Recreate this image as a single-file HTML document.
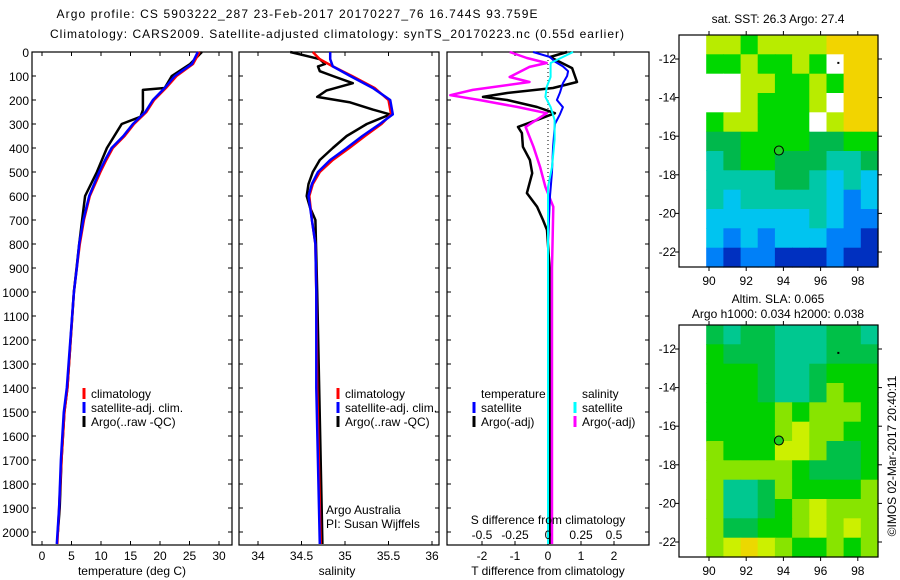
<!DOCTYPE html>
<html><head><meta charset="utf-8"><style>
html,body{margin:0;padding:0;background:#fff;}
svg{display:block;font-family:"Liberation Sans",sans-serif;font-size:12px;}
</style></head><body>
<svg id="c" width="900" height="580" viewBox="0 0 900 580" xmlns="http://www.w3.org/2000/svg">
<text x="297" y="18" text-anchor="middle" textLength="481">Argo profile: CS 5903222_287 23-Feb-2017 20170227_76 16.744S 93.759E</text>
<text x="337" y="38" text-anchor="middle" textLength="574">Climatology: CARS2009. Satellite-adjusted climatology: synTS_20170223.nc (0.55d earlier)</text>
<g id="g"></g>
</svg>
<script>
// ---------- data ----------
const depthTicks=[0,100,200,300,400,500,600,700,800,900,1000,1100,1200,1300,1400,1500,1600,1700,1800,1900,2000];
const tTicks=[0,5,10,15,20,25,30];
const sTicks=[34,34.5,35,35.5,36];
const dTTicks=[-2,-1,0,1,2];
const dSTicks=[-0.5,-0.25,0,0.25,0.5];
const dSTickLabels=["-0.5","-0.25","0","0.25","0.5"];

const tDepth=[0,50,100,150,200,250,300,350,400,450,500,600,700,800,900,1000,1400,1500,1700,1900,2050];
const tSat=[26.4,25.4,22.5,20.8,18.8,17.5,15.4,13.8,11.8,10.7,9.7,8.0,7.0,6.3,5.9,5.4,4.2,3.7,3.2,2.9,2.5];
const tClim=[26.7,25.6,22.8,21.0,19.0,17.7,15.6,14.0,12.0,10.9,9.9,8.1,7.1,6.4,5.9,5.4,4.3,3.8,3.3,2.9,2.6];
const tArgoDepth=[0,50,100,150,158,187,242,270,300,400,500,600,700,800,1000,1400,1500,1700,1900,2000];
const tArgo=[27.1,25.1,22.0,20.8,17.1,17.1,17.1,16.7,13.5,11.0,9.3,7.3,6.8,6.3,5.4,4.3,3.8,3.3,3.0,2.7];

const sDepth=[0,30,60,100,150,200,260,300,350,400,450,500,550,600,700,800,1000,1400,2050];
const sSat=[34.83,34.83,34.86,35.06,35.32,35.52,35.55,35.40,35.20,35.02,34.83,34.69,34.62,34.58,34.62,34.66,34.67,34.67,34.71];
const sClim=[34.63,34.71,34.86,35.08,35.34,35.50,35.53,35.42,35.23,35.05,34.86,34.71,34.63,34.59,34.62,34.66,34.67,34.68,34.72];
const sArgoDepth=[0,20,30,50,60,80,100,130,160,187,210,240,260,300,350,400,450,500,550,600,650,700,1000,2050];
const sArgo=[34.37,34.60,34.71,34.77,34.69,34.71,34.86,35.09,34.79,34.68,35.06,35.32,35.52,35.25,35.02,34.86,34.71,34.63,34.58,34.56,34.60,34.66,34.68,34.74];

const dTSatDepth=[0,21,40,60,80,100,130,170,200,230,260,300,400,500,600,800,2050];
const dTSat=[-0.45,0.06,0.21,0.45,0.61,0.58,0.45,0.36,0.27,0.45,0.36,0.21,0.15,0.12,0.06,0.0,0.0];
const dTArgoDepth=[0,21,67,125,150,171,187,200,229,255,283,312,338,395,450,505,588,645,700,742,900,2050];
const dTArgo=[0.58,0.06,0.73,0.88,0.15,-1.24,-1.97,-1.24,-0.33,0.21,-0.33,-0.91,-0.79,-0.76,-0.55,-0.48,-0.64,-0.33,-0.15,-0.03,0.05,0.06];
const dSArgoDepth=[0,25,46,62,104,125,158,180,200,229,255,312,395,479,562,645,900,2050];
const dSArgo=[-0.29,-0.16,-0.01,-0.14,-0.29,-0.14,-0.57,-0.74,-0.52,-0.23,-0.01,-0.17,-0.11,-0.06,-0.02,0.04,0.03,0.03];
const dSSatDepth=[0,46,104,146,187,229,283,366,479,562,2050];
const dSSat=[0.19,0.02,0.02,-0.01,-0.02,0.02,0.05,0.05,0.03,0.0,0.0];

const lonTicks=[90,92,94,96,98];
const latTicks=[-12,-14,-16,-18,-20,-22];
const sstRows=["llgllllyyy","gglgglgwyy","wwllgglgyy","wwlggglwyy","gllgggwlyy","GGggggGGgg","tGggGGGttG","ttttGGtctc","tctttttcbc","cccccctcbb","cbcbcccbbB","bBbbBBBbBB"];
const slaRows=["GtGGtttGGt","gGGGtttGGG","gggGttGggg","gggGttGlgg","gggglglllg","gggglyllgg","lgggyylGGg","lllllgGGGg","lttGlggggl","lttGglylll","lGGgglylyl","lyoylgglgl"];
const argoLon=93.759, argoLat=-16.744;

// ---------- drawing ----------
const NS="http://www.w3.org/2000/svg";
const G=document.getElementById('g');
function el(tag,attrs,parent){const e=document.createElementNS(NS,tag);for(const k in attrs)e.setAttribute(k,attrs[k]);(parent||G).appendChild(e);return e;}
function txt(x,y,s,anchor,parent){const t=el('text',{x:x,y:y,'text-anchor':anchor||'start'},parent);t.textContent=s;return t;}
const yD=d=>52+d*0.24;
const PB=545;
const xT=t=>42+t*5.9;
const xS=s=>258+(s-34)*87;
const xDT=t=>548+t*33;
const xDS=s=>548+s*132;

function panel(x0,x1,name){
  const g=el('g',{});
  
  
  el('rect',{x:x0,y:52,width:x1-x0,height:PB-52,fill:'none',stroke:'#000','stroke-width':1.2},g);
  depthTicks.forEach(d=>{const y=yD(d);el('line',{x1:x0,x2:x0+4,y1:y,y2:y,stroke:'#000'},g);el('line',{x1:x1-4,x2:x1,y1:y,y2:y,stroke:'#000'},g);});
  return g;
}
function xticks(g,vals,fx,labels,ly){
  vals.forEach((v,i)=>{const x=fx(v);el('line',{x1:x,x2:x,y1:52,y2:56,stroke:'#000'},g);el('line',{x1:x,x2:x,y1:PB-4,y2:PB,stroke:'#000'},g);
    if(labels){const t=txt(x,ly,labels[i],'middle',g);}});
}
function line(g,xs,ds,fx,color,w,name){
  const pts=xs.map((v,i)=>fx(v).toFixed(1)+','+yD(ds[i]).toFixed(1)).join(' ');
  const p=el('polyline',{points:pts,fill:'none',stroke:color,'stroke-width':w,'stroke-linejoin':'round'},g);
  
  
}
function legend(g,x,y,color,label){
  el('line',{x1:x,x2:x,y1:y-10,y2:y+1,stroke:color,'stroke-width':3},g);
  const t=txt(x+7,y,label,'start',g);
  
  
}

// depth labels
depthTicks.forEach(d=>{const t=txt(29,yD(d)+5,String(d),'end');});

// Panel 1 temperature
const p1=panel(32,232,'temperature-panel');
xticks(p1,tTicks,xT,tTicks.map(String),560);
line(p1,tArgo,tArgoDepth,xT,'#000',2.5,'temp-argo-line');
line(p1,tClim,tDepth,xT,'#f00',2.5,'temp-climatology-line');
line(p1,tSat,tDepth,xT,'#00f',2.5,'temp-satellite-line');
legend(p1,84,398,'#f00','climatology');
legend(p1,84,412,'#00f','satellite-adj. clim.');
legend(p1,84,426,'#000','Argo(..raw -QC)');
{const t=txt(132,575,'temperature (deg C)','middle');}

// Panel 2 salinity
const p2=panel(239,439,'salinity-panel');
xticks(p2,sTicks,xS,sTicks.map(String),560);
line(p2,sArgo,sArgoDepth,xS,'#000',2.5,'sal-argo-line');
line(p2,sClim,sDepth,xS,'#f00',2.5,'sal-climatology-line');
line(p2,sSat,sDepth,xS,'#00f',2.5,'sal-satellite-line');
legend(p2,338,398,'#f00','climatology');
legend(p2,338,412,'#00f','satellite-adj. clim.');
legend(p2,338,426,'#000','Argo(..raw -QC)');
txt(326,514,'Argo Australia','start',p2);
txt(326,528,'PI: Susan Wijffels','start',p2);
{const t=txt(337,575,'salinity','middle');}

// Panel 3 differences
const p3=panel(447,649,'difference-panel');
xticks(p3,dTTicks,xDT,dTTicks.map(String),560);
el('line',{x1:548,x2:548,y1:52,y2:PB,stroke:'#000','stroke-dasharray':'1,3'},p3);
line(p3,dTArgo,dTArgoDepth,xDT,'#000',2.5,'diff-temp-argo-line');
line(p3,dSArgo,dSArgoDepth,xDS,'#f0f',2.5,'diff-sal-argo-line');
line(p3,dTSat,dTSatDepth,xDT,'#00f',2,'diff-temp-satellite-line');
line(p3,dSSat,dSSatDepth,xDS,'#0ff',2,'diff-sal-satellite-line');
dSTicks.forEach((v,i)=>{txt(xDS(v),539,dSTickLabels[i],'middle',p3);});
txt(548,524,'S difference from climatology','middle',p3);
txt(481,398,'temperature','start',p3);
txt(582,398,'salinity','start',p3);
legend(p3,474,412,'#00f','satellite');
legend(p3,474,426,'#000','Argo(-adj)');
legend(p3,575,412,'#0ff','satellite');
legend(p3,575,426,'#f0f','Argo(-adj)');
{const t=txt(548,575,'T difference from climatology','middle');}

// Maps
const palSST={w:'#ffffff',y:'#f2d400',l:'#b8ec00',g:'#00d800',G:'#00b84c',t:'#00c8a8',c:'#00c4f0',b:'#0080f8',B:'#0030c0'};
const palSLA={g:'#00d000',G:'#00c048',t:'#00c890',l:'#88e400',y:'#ccf000',o:'#ecd800'};
function map(top,bottom,rows,pal,name){
  const g=el('g',{});
  
  
  const lx=lon=>709+(lon-90)*18.6;
  const latTop=-12+(59-35)/19.3;
  const ly=lat=>top+(latTop-lat)*19.3;
  const latBot=latTop-(bottom-top)/19.3;
  const x0=lx(89.85),x1=878;
  const nr=rows.length,nc=rows[0].length;
  const ch=(bottom-top)/nr,cw=(x1-x0)/nc;
  rows.forEach((r,i)=>{for(let j=0;j<nc;j++){
    const c=el('rect',{x:(x0+j*cw).toFixed(1),y:(top+i*ch).toFixed(1),width:(cw+0.6).toFixed(1),height:(ch+0.6).toFixed(1),fill:pal[r[j]]},g);
    
    
  }});
  el('rect',{x:679,y:top,width:199,height:bottom-top,fill:'none',stroke:'#000','stroke-width':1.2},g);
  lonTicks.forEach(v=>{const x=lx(v);el('line',{x1:x,x2:x,y1:top-4,y2:top,stroke:'#000'},g);el('line',{x1:x,x2:x,y1:bottom,y2:bottom+4,stroke:'#000'},g);txt(x,bottom+18,String(v),'middle',g);});
  latTicks.forEach(v=>{const y=ly(v);el('line',{x1:675,x2:679,y1:y,y2:y,stroke:'#000'},g);el('line',{x1:878,x2:882,y1:y,y2:y,stroke:'#000'},g);txt(676,y+4,String(v),'end',g);});
  const m=el('circle',{cx:lx(argoLon),cy:ly(argoLat),r:4.5,fill:'#20d020',stroke:'#000','stroke-width':1},g);
  
  
  el('rect',{x:lx(96.9),y:ly(-12.15),width:2,height:2,fill:'#000'},g);
}
map(35,267,sstRows,palSST,'sst-map');
map(325,557,slaRows,palSLA,'sla-map');
{const t=txt(778,23,'sat. SST: 26.3 Argo: 27.4','middle');}
{const t=txt(778,303,'Altim. SLA: 0.065','middle');}
{const t=txt(778,318,'Argo h1000: 0.034 h2000: 0.038','middle');}
{const t=txt(0,0,'©IMOS 02-Mar-2017 20:40:11','middle');t.setAttribute('transform','translate(896,456) rotate(-90)');}
</script>
</body></html>
